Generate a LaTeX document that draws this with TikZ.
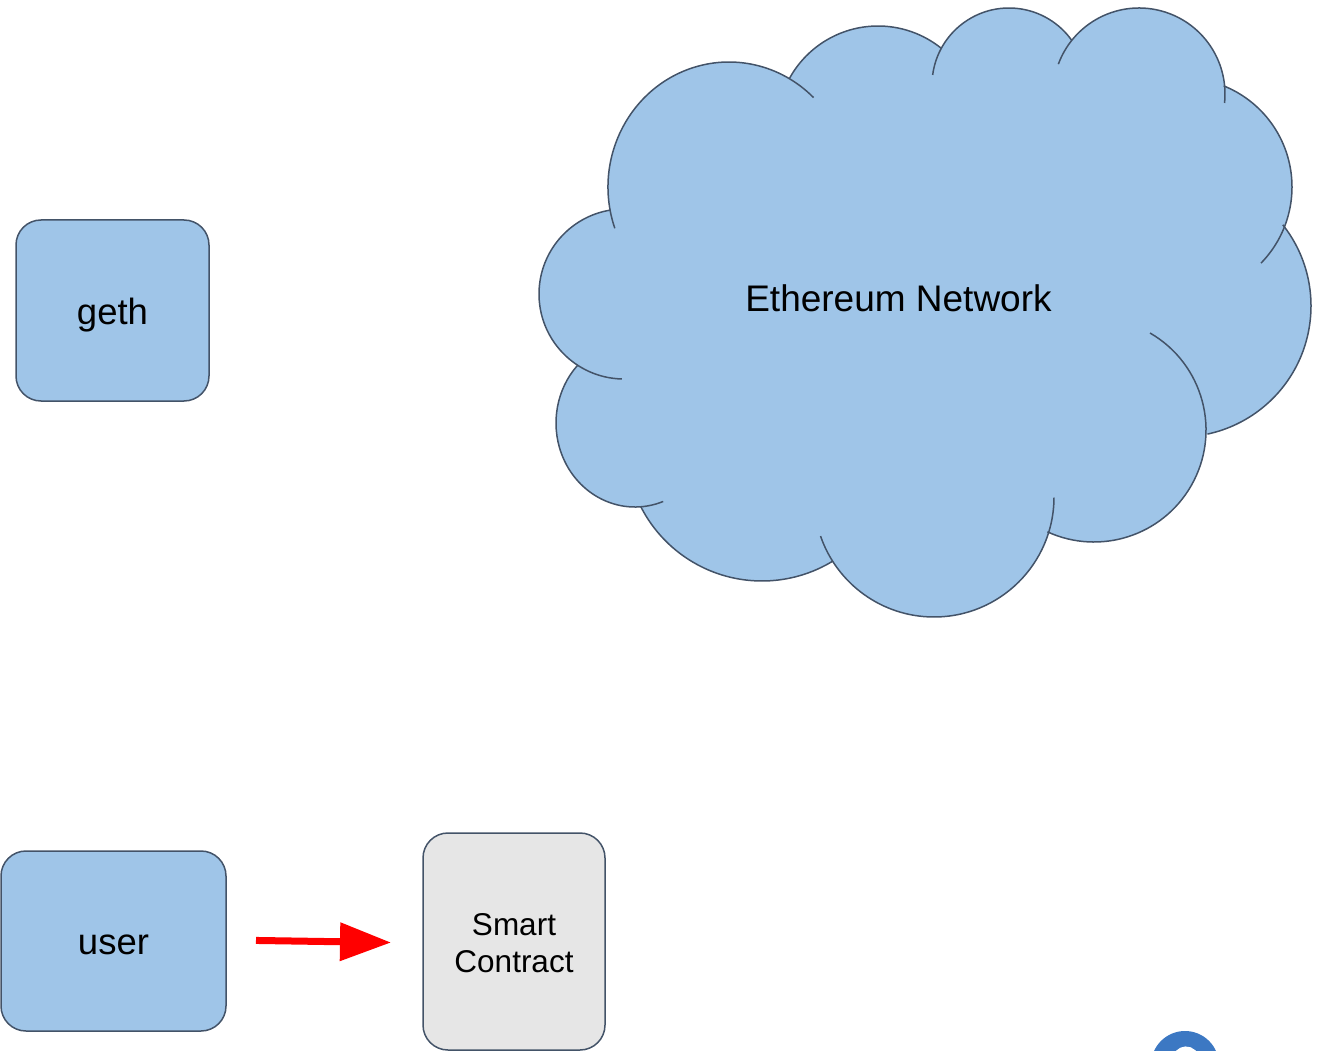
\documentclass[tikz,border=0pt]{standalone}
\usepackage{fontspec}
\setmainfont{Liberation Sans}
\usetikzlibrary{arrows.meta}
\definecolor{boxblue}{HTML}{9FC5E8}
\definecolor{edgegray}{HTML}{435368}
\definecolor{scgray}{HTML}{E6E6E6}
\definecolor{helpblue}{HTML}{3C78C3}
\definecolor{arrowred}{HTML}{FF0000}
\newcommand\cloudarc[6]{\draw[cloudline] (#1,#2) ++(#5:#3 and #4) arc[start angle=#5,end angle=#6,x radius=#3,y radius=#4];}
\newcommand\cloudblob[4]{\fill[boxblue] (#1,#2) ellipse[x radius=#3,y radius=#4];}
\begin{document}
\begin{tikzpicture}[x=1pt,y=-1pt,
  cloudline/.style={draw=edgegray,line width=1.5pt},
  bigtext/.style={font=\fontsize{36.5}{40}\selectfont, text height=27pt, text depth=0pt},
  bluebox/.style={draw=edgegray, line width=1.5pt, fill=boxblue, rounded corners=25pt, bigtext},
  graybox/.style={draw=edgegray, line width=1.5pt, fill=scgray, rounded corners=25pt, align=center,
    font=\fontsize{31.5}{37}\selectfont},
  redarrow/.style={draw=arrowred, line width=7pt, -{Triangle[length=51pt,width=37pt]}}
]
\useasboundingbox (0,0) rectangle (1320,1051);

% cloud fill
\cloudblob{729}{187}{121}{125}
\cloudblob{878}{127}{101}{101}
\cloudblob{1009}{85}{77}{77}
\cloudblob{1139}{94}{86}{86}
\cloudblob{1183}{187}{109}{109}
\cloudblob{1180}{306}{131}{131}
\cloudblob{1094}{430}{112}{112}
\cloudblob{934}{497}{120}{120}
\cloudblob{762}{445}{136}{136}
\cloudblob{635}{423}{79}{84}
\cloudblob{624}{294}{85}{85}
\fill[boxblue] (729,187) -- (878,127) -- (1009,85) -- (1139,94) -- (1183,187) -- (1180,306)
  -- (1094,430) -- (934,497) -- (762,445) -- (635,423) -- (624,294) -- cycle;
% cloud outline
\cloudarc{729}{187}{121}{125}{160.7}{314.3}
\cloudarc{878}{127}{101}{101}{209}{309}
\cloudarc{1009}{85}{77}{77}{187.5}{324.5}
\cloudarc{1139}{94}{86}{86}{200.3}{366}
\cloudarc{1183}{187}{109}{109}{291.9}{404.3}
\cloudarc{1180}{306}{131}{131}{321.7}{437.9}
\cloudarc{1094}{430}{112}{112}{300}{474.6}
\cloudarc{934}{497}{120}{120}{0.3}{161}
\cloudarc{762}{445}{136}{136}{58.5}{153}
\cloudarc{635}{423}{79}{84}{69.1}{223}
\cloudarc{624}{294}{85}{85}{91.4}{261}
\node[bigtext, font=\fontsize{37}{40}\selectfont] (netlabel) at (898.5,297.5) {Ethereum Network};

% boxes
\node[bluebox, minimum width=193pt, minimum height=181pt] (geth) at (112.5,310.5) {geth};
\node[bluebox, minimum width=225pt, minimum height=180pt] (user) at (113.5,941) {user};
\node[graybox, minimum width=182pt, minimum height=217pt] (sc) at (514,941.5) {\rule{0pt}{26pt}Smart\\Contract};

% arrow
\draw[redarrow, shorten <=29.25pt, shorten >=31.25pt] ([yshift=1pt]user.east) -- ([yshift=-1.5pt]sc.west);

% partially visible help button
\begin{scope}
\clip (0,0) rectangle (1320,1051);
\fill[helpblue] (1185,1065) circle[radius=34];
\draw[white, line width=5pt] (1186,1060) ++(200:11) arc[start angle=200,end angle=340,radius=11];
\end{scope}
\end{tikzpicture}
\end{document}
